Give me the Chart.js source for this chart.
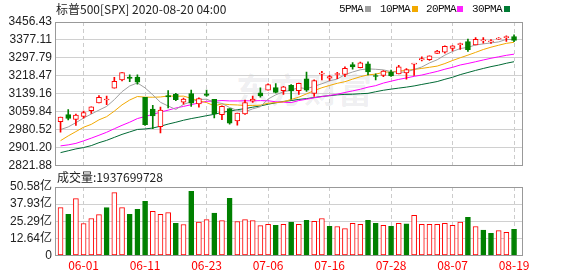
<!DOCTYPE html>
<html><head><meta charset="utf-8">
<script src="https://cdn.jsdelivr.net/npm/chart.js@4.4.1/dist/chart.umd.min.js"></script>
<style>
html,body{margin:0;padding:0;background:#fff;}
#wrap{position:relative;width:578px;height:276px;overflow:hidden;font-family:"Noto Sans CJK SC",sans-serif;color:#222;}
.t{position:absolute;white-space:nowrap;font-size:12px;line-height:14px;}
.lg{position:absolute;white-space:nowrap;font-family:"Liberation Mono",monospace;font-size:11px;letter-spacing:-0.6px;line-height:14px;color:#111;}
.sq{position:absolute;width:6px;height:6px;top:6px;}
.wm{position:absolute;left:236px;top:70px;font-size:34px;font-weight:bold;line-height:38px;color:rgba(20,20,60,0.08);white-space:nowrap;}
canvas{position:absolute;left:0;}
</style></head><body>
<div id="wrap">
  <div class="wm">东方财富</div>
  <canvas id="cMain" width="578" height="185" style="top:0"></canvas>
  <canvas id="cVol" width="578" height="106" style="top:170px"></canvas>
  <div class="t" style="left:56px;top:2px">标普500[SPX] 2020-08-20 04:00</div>
  <div class="lg" style="left:339px;top:2px">5PMA</div><div class="sq" style="left:365px;background:#a0a0a0"></div>
  <div class="lg" style="left:380px;top:2px">10PMA</div><div class="sq" style="left:412px;background:#f2a900"></div>
  <div class="lg" style="left:426px;top:2px">20PMA</div><div class="sq" style="left:457px;background:#ff22ff"></div>
  <div class="lg" style="left:472px;top:2px">30PMA</div><div class="sq" style="left:504px;background:#007a33"></div>
  <div class="t" style="left:57px;top:170px">成交量:1937699728</div>
</div>
<script>
// ---- data ----
const dates = ["05-27","05-28","05-29","06-01","06-02","06-03","06-04","06-05","06-08","06-09","06-10","06-11","06-12","06-15","06-16","06-17","06-18","06-19","06-22","06-23","06-24","06-25","06-26","06-29","06-30","07-01","07-02","07-06","07-07","07-08","07-09","07-10","07-13","07-14","07-15","07-16","07-17","07-20","07-21","07-22","07-23","07-24","07-27","07-28","07-29","07-30","07-31","08-03","08-04","08-05","08-06","08-07","08-10","08-11","08-12","08-13","08-14","08-17","08-18","08-19"];
const openP = [3015.65,3046.61,3025.17,3038.78,3064.78,3098.90,3111.56,3163.84,3199.92,3213.32,3213.42,3123.53,3071.04,2993.76,3131.00,3136.13,3101.64,3140.29,3094.42,3138.70,3114.40,3046.60,3073.20,3018.59,3050.20,3105.92,3143.64,3155.29,3166.44,3153.07,3176.17,3152.47,3205.08,3141.11,3225.98,3208.36,3224.21,3224.29,3268.52,3254.86,3271.64,3218.58,3219.84,3234.27,3227.22,3231.76,3270.45,3288.26,3289.92,3317.37,3323.17,3340.05,3356.04,3370.34,3355.46,3372.95,3368.66,3380.86,3387.04,3392.51];
const highP = [3036.25,3068.67,3049.17,3062.18,3081.07,3130.94,3128.91,3211.72,3233.13,3222.71,3223.27,3123.53,3088.42,3079.76,3153.45,3141.16,3120.00,3155.53,3120.92,3154.90,3115.01,3086.25,3073.73,3053.89,3111.51,3128.44,3165.81,3182.59,3184.15,3171.80,3179.78,3186.82,3235.32,3200.95,3238.28,3220.39,3233.52,3258.61,3277.29,3279.32,3279.99,3227.26,3241.43,3243.72,3264.74,3250.92,3272.17,3302.73,3306.84,3330.77,3351.03,3352.54,3363.29,3381.01,3387.89,3387.24,3378.51,3387.59,3395.06,3399.54];
const lowP = [2969.75,3023.40,2998.61,3031.54,3051.64,3098.90,3090.41,3163.84,3196.00,3193.11,3181.49,2999.49,2984.47,2965.66,3076.06,3108.03,3093.51,3083.11,3079.39,3127.12,3032.13,3024.01,3004.63,2999.74,3047.83,3101.17,3124.52,3155.29,3142.93,3136.53,3115.70,3136.22,3149.43,3127.66,3200.76,3198.59,3205.65,3215.16,3247.77,3253.10,3222.66,3200.05,3214.25,3216.17,3227.22,3204.13,3220.26,3284.53,3286.37,3317.37,3318.14,3328.72,3335.44,3326.44,3355.46,3363.35,3361.64,3379.22,3370.15,3369.66];
const closeP = [3036.13,3029.73,3044.31,3055.73,3080.82,3122.87,3112.35,3193.93,3232.39,3207.18,3190.14,3002.10,3041.31,3066.59,3124.74,3113.49,3115.34,3097.74,3117.86,3131.29,3050.33,3083.76,3009.05,3053.24,3100.29,3115.86,3130.01,3179.72,3145.32,3169.94,3152.05,3185.04,3155.22,3197.52,3226.56,3215.57,3224.73,3251.84,3257.30,3276.02,3235.66,3215.63,3239.41,3218.44,3258.44,3246.22,3271.12,3294.61,3306.51,3327.77,3349.16,3351.28,3360.47,3333.69,3380.35,3373.43,3372.85,3381.99,3389.78,3374.85];
const prevClose0 = 2991.77;
const ma5 = [2980.8,2992.4,3011.4,3031.6,3049.4,3066.8,3083.2,3113.2,3148.4,3173.6,3187.0,3165.0,3134.4,3101.4,3085.0,3069.6,3092.2,3103.6,3113.8,3115.0,3102.4,3096.2,3078.4,3065.4,3059.2,3072.4,3081.6,3115.8,3134.2,3148.2,3155.4,3166.4,3161.4,3172.0,3183.4,3196.2,3204.2,3223.6,3235.4,3245.2,3249.2,3247.4,3244.8,3237.0,3233.4,3235.4,3246.4,3257.6,3275.4,3289.4,3310.0,3326.0,3339.0,3344.4,3354.8,3359.6,3364.0,3368.4,3379.6,3378.6];
const ma10 = [2931.8,2952.8,2971.9,2991.1,3003.8,3023.8,3037.8,3062.3,3090.0,3111.5,3126.9,3124.1,3123.8,3124.9,3129.3,3128.3,3128.6,3119.0,3107.6,3100.0,3086.0,3094.2,3091.0,3089.6,3087.1,3087.4,3088.9,3097.1,3099.8,3103.7,3113.9,3124.0,3138.6,3153.1,3165.8,3175.8,3185.3,3192.5,3203.7,3214.3,3222.7,3225.8,3234.2,3236.2,3239.3,3242.3,3246.9,3251.2,3256.2,3261.4,3272.7,3286.2,3298.3,3309.9,3322.1,3334.8,3345.0,3353.7,3362.0,3366.7];
const ma20 = [2908.6,2913.1,2919.7,2930.9,2942.8,2955.6,2968.8,2984.4,2999.5,3013.4,3029.4,3038.5,3047.9,3058.0,3066.6,3076.1,3083.2,3090.7,3098.8,3105.8,3106.5,3109.2,3107.4,3107.3,3108.2,3107.9,3108.8,3108.1,3103.7,3101.9,3100.0,3109.1,3114.8,3121.4,3126.5,3131.6,3137.1,3144.8,3151.8,3159.0,3168.3,3174.9,3186.4,3194.7,3202.6,3209.1,3216.1,3221.9,3230.0,3237.9,3247.7,3256.0,3266.3,3273.1,3280.7,3288.6,3296.0,3302.5,3309.1,3314.1];
const ma30 = [2878.8,2887.0,2895.2,2901.2,2909.8,2922.7,2933.1,2946.3,2959.5,2970.4,2981.3,2983.4,2987.7,2995.6,3005.0,3013.1,3022.0,3029.3,3035.5,3042.2,3048.2,3057.0,3062.2,3068.5,3073.4,3079.8,3085.1,3092.8,3099.1,3105.1,3108.9,3114.1,3117.8,3122.5,3127.4,3130.5,3134.3,3136.2,3137.0,3139.3,3140.9,3148.0,3154.6,3159.6,3164.1,3168.5,3173.7,3180.3,3186.6,3193.1,3203.1,3212.0,3223.7,3233.1,3242.4,3251.0,3259.1,3265.8,3274.0,3280.8];
const volumeYi = [35.4,30.4,42.0,23.6,27.3,30.2,35.4,46.4,35.4,30.4,34.1,40.0,32.7,30.4,31.7,23.8,22.9,47.4,24.6,26.5,31.4,25.8,42.2,25.1,26.5,25.8,22.1,23.1,22.3,23.1,24.6,23.1,26.0,25.3,27.3,21.6,21.4,19.9,23.8,23.1,26.0,23.8,22.3,21.6,23.8,23.3,29.7,23.1,23.1,23.1,23.8,22.3,24.6,28.2,21.4,18.7,16.4,18.4,17.2,19.38];
const priceTicks = [2821.88,2901.20,2980.52,3059.84,3139.16,3218.47,3297.79,3377.11,3456.43];
const volTicks = [0,12.64,25.29,37.93,50.58];
const xTickDates = ["06-01","06-11","06-23","07-06","07-16","07-28","08-07","08-19"];

// ---- style ----
const RED='#ff0000', GREEN='#008000', GRID='#d0d0d0', VGRID='#cccccc';
const X_MIN=-0.72, X_MAX=60.1;
const xTickIdx = xTickDates.map(d=>dates.indexOf(d));
const candleUp = i => closeP[i] >= openP[i];
const volUp = i => closeP[i] >= (i===0 ? prevClose0 : closeP[i-1]);

const frame = {id:'frame', afterDatasetsDraw(chart){
  const a=chart.chartArea, c=chart.ctx; c.save(); c.strokeStyle='#999'; c.lineWidth=1;
  c.strokeRect(Math.round(a.left)+0.5, Math.round(a.top)+0.5, Math.round(a.right-a.left)-1, Math.round(a.bottom-a.top)-1);
  c.restore();
}};

function xScale(showLabels, h){
  return {type:'linear', min:X_MIN, max:X_MAX, offset:false, bounds:'ticks',
    afterBuildTicks:s=>{s.ticks=xTickIdx.map(v=>({value:v}));},
    ticks:{display:showLabels, autoSkip:false, maxRotation:0, padding:3, color:RED,
      font:{family:'"Noto Sans CJK SC"', size:12}, callback:v=>dates[v]},
    grid:{color:VGRID, lineWidth:1, drawTicks:false, offset:false},
    border:{display:false, dash:[4,3]},
    afterFit:s=>{s.height=h;}};
}
function yScale(min,max,ticksArr,fmt){
  return {type:'linear', min:min, max:max,
    afterBuildTicks:s=>{s.ticks=ticksArr.map(v=>({value:v}));},
    ticks:{autoSkip:false, padding:3, color:'#222',
      font:{family:'"Liberation Sans", "Noto Sans CJK SC"', size:12}, callback:fmt},
    grid:{color:GRID, lineWidth:1, drawTicks:false},
    border:{display:false},
    afterFit:s=>{s.width=55;}};
}

const common = {responsive:false, animation:false, events:[],
  plugins:{legend:{display:false}, tooltip:{enabled:false}}};

const idx = dates.map((d,i)=>i);
new Chart(document.getElementById('cMain'), {
  type:'bar',
  data:{datasets:[
    {type:'bar', order:0, grouped:false, barThickness:5, borderWidth:1, borderSkipped:false, minBarLength:1,
      data: idx.map(i=>({x:i, y:[openP[i], closeP[i]]})),
      backgroundColor: c=> c.dataIndex===undefined? '#fff' : (candleUp(c.dataIndex)? '#ffffff' : GREEN),
      borderColor: c=> c.dataIndex===undefined? RED : (candleUp(c.dataIndex)? RED : GREEN)},
    {type:'bar', order:1, grouped:false, barThickness:1, borderWidth:0,
      data: idx.map(i=>({x:i, y:[lowP[i], highP[i]]})),
      backgroundColor: c=> c.dataIndex===undefined? RED : (candleUp(c.dataIndex)? RED : GREEN)},
    {type:'line', order:2, label:'5PMA', data: idx.map(i=>({x:i,y:ma5[i]})), borderColor:'#a0a0a0', borderWidth:1, pointRadius:0, tension:0},
    {type:'line', order:2, label:'10PMA', data: idx.map(i=>({x:i,y:ma10[i]})), borderColor:'#f2a900', borderWidth:1, pointRadius:0, tension:0},
    {type:'line', order:2, label:'20PMA', data: idx.map(i=>({x:i,y:ma20[i]})), borderColor:'#ff00ff', borderWidth:1, pointRadius:0, tension:0},
    {type:'line', order:2, label:'30PMA', data: idx.map(i=>({x:i,y:ma30[i]})), borderColor:'#006a35', borderWidth:1, pointRadius:0, tension:0}
  ]},
  options:Object.assign({}, common, {
    layout:{padding:{top:22, bottom:19.5, left:0, right:55.5}},
    scales:{x:xScale(false,0), y:yScale(priceTicks[0], priceTicks[priceTicks.length-1], priceTicks, v=>v.toFixed(2))}
  }),
  plugins:[frame]
});

new Chart(document.getElementById('cVol'), {
  type:'bar',
  data:{datasets:[
    {grouped:false, barThickness:5, borderWidth:1, borderSkipped:false,
      data: idx.map(i=>({x:i, y:volumeYi[i]})),
      backgroundColor: c=> c.dataIndex===undefined? '#fff' : (volUp(c.dataIndex)? '#ffffff' : GREEN),
      borderColor: c=> c.dataIndex===undefined? RED : (volUp(c.dataIndex)? RED : GREEN)}
  ]},
  options:Object.assign({}, common, {
    layout:{padding:{top:17, bottom:0, left:0, right:55.5}},
    scales:{x:xScale(true,20.5), y:yScale(0, volTicks[volTicks.length-1], volTicks, v=> v===0? '0' : v.toFixed(2)+'亿')}
  }),
  plugins:[frame]
});
</script>
</body></html>
